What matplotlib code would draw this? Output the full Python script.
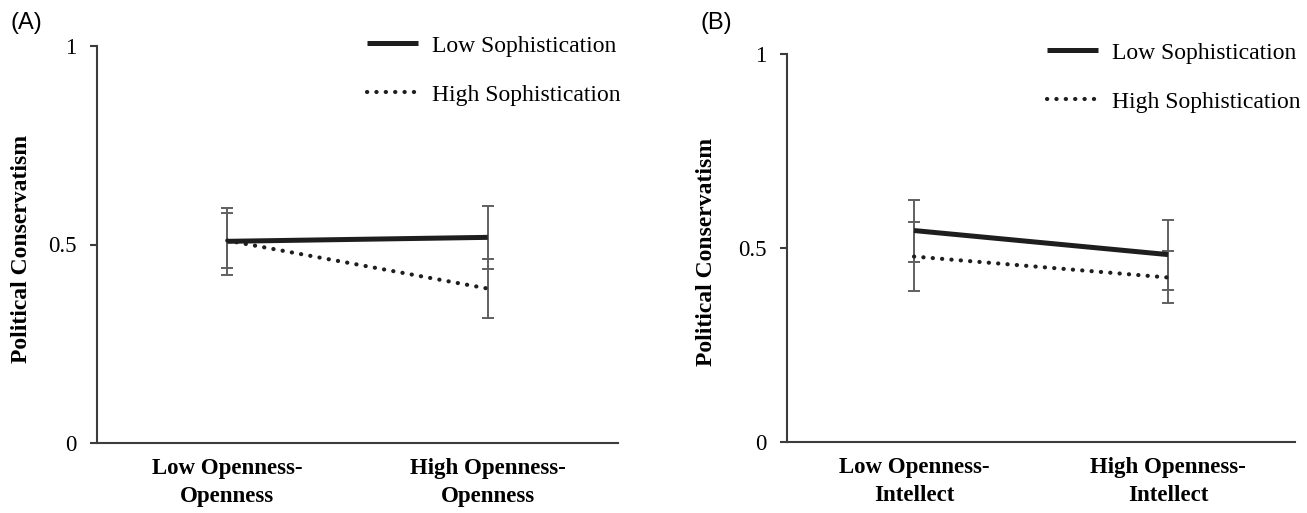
import matplotlib
matplotlib.use("Agg")
import matplotlib.pyplot as plt
import numpy as np

# ---- data ----
groups_a = ["Low Openness-\nOpenness", "High Openness-\nOpenness"]
groups_b = ["Low Openness-\nIntellect", "High Openness-\nIntellect"]
series = ["Low Sophistication", "High Sophistication"]

a_low_soph = [0.508, 0.518]
a_low_soph_err = [0.085, 0.080]
a_high_soph = [0.510, 0.389]
a_high_soph_err = [0.070, 0.075]

b_low_soph = [0.545, 0.483]
b_low_soph_err = [0.080, 0.090]
b_high_soph = [0.478, 0.424]
b_high_soph_err = [0.090, 0.067]

yticks = [0, 0.5, 1]
ytick_labels = ["0", "0.5", "1"]

W, H = 1307, 513
fig = plt.figure(figsize=(W / 100, H / 100), dpi=100)

serif = ["Liberation Serif", "DejaVu Serif"]
sans = ["Liberation Sans", "DejaVu Sans"]

spine_col = "#3c3c3c"
err_col = "#606060"
line_col = "#1e1e1e"


def px_rect(l, r, t, b):
    return [l / W, 1 - b / H, (r - l) / W, (b - t) / H]


def panel(rect, groups, low, low_err, high, high_err, leg_anchor, ylab_x):
    ax = fig.add_axes(rect)
    x = np.arange(len(groups))
    ax.errorbar(x, low, yerr=low_err, fmt="none", ecolor=err_col,
                elinewidth=1.4, capsize=4, capthick=1.4, zorder=2)
    ax.errorbar(x, high, yerr=high_err, fmt="none", ecolor=err_col,
                elinewidth=1.4, capsize=4, capthick=1.4, zorder=2)
    ax.plot(x, low, color=line_col, lw=3.6, solid_capstyle="butt",
            label=series[0], zorder=3)
    ax.plot(x, high, color=line_col, lw=3.0, linestyle=(0, (0.05, 2.2)),
            dash_capstyle="round", label=series[1], zorder=3)
    ax.set_xlim(-0.5, len(groups) - 0.5)
    ax.set_ylim(0, 1)
    for s in ["top", "right"]:
        ax.spines[s].set_visible(False)
    for s in ["left", "bottom"]:
        ax.spines[s].set_color(spine_col)
        ax.spines[s].set_linewidth(1.5)
    ax.set_yticks(yticks)
    ax.set_yticklabels(ytick_labels, fontfamily=serif, fontsize=16.5)
    ax.tick_params(axis="y", direction="out", length=5, width=1.5,
                   color=spine_col, pad=10)
    ax.set_xticks(x)
    ax.set_xticklabels(groups, fontfamily=serif, fontsize=16.5,
                       fontweight="bold", linespacing=1.45)
    ax.tick_params(axis="x", length=0, pad=11)
    ax.set_ylabel("Political Conservatism", fontfamily=serif, fontsize=17,
                  fontweight="bold")
    ax.yaxis.set_label_coords(ylab_x, 0.49)
    ax.legend(loc="upper left", bbox_to_anchor=leg_anchor,
              bbox_transform=fig.transFigure, frameon=False,
              prop={"family": serif, "size": 17}, handlelength=2.15,
              handletextpad=0.6, labelspacing=1.17, borderpad=0,
              borderaxespad=0)
    return ax


panel(px_rect(97, 618, 46, 443), groups_a, a_low_soph, a_low_soph_err,
      a_high_soph, a_high_soph_err, (367 / W, 1 - 35 / H), -0.125)
panel(px_rect(787, 1295, 54, 442), groups_b, b_low_soph, b_low_soph_err,
      b_high_soph, b_high_soph_err, (1047 / W, 1 - 42 / H), -0.138)

fig.text(10 / W, 1 - 23 / H, "(A)", fontfamily=sans, fontsize=17,
         va="center", ha="left")
fig.text(700 / W, 1 - 23 / H, "(B)", fontfamily=sans, fontsize=17,
         va="center", ha="left")

fig.savefig("out.png", dpi=100, facecolor="white")
